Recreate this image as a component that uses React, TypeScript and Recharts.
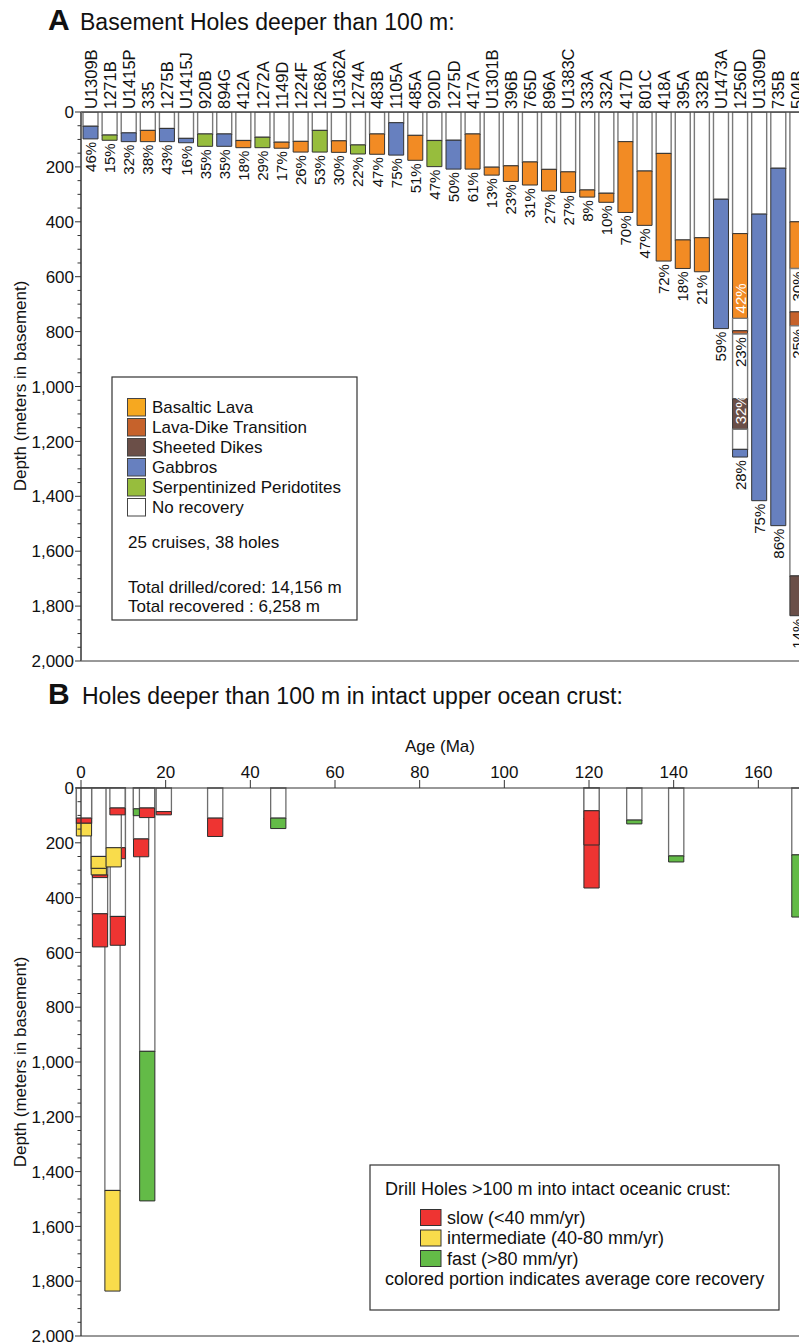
import React from 'react';
import {
  BarChart,
  Bar,
  XAxis,
  YAxis,
  Cell,
  LabelList,
  ComposedChart,
  ReferenceArea,
  Scatter,
} from 'recharts';

const FONT = '"Liberation Sans", Arial, Helvetica, sans-serif';

// ================= Panel A data =================
const holeNames = [
  'U1309B', '1271B', 'U1415P', '335', '1275B', 'U1415J', '920B', '894G', '412A', '1272A',
  '1149D', '1224F', '1268A', 'U1362A', '1274A', '483B', '1105A', '485A', '920D', '1275D',
  '417A', 'U1301B', '396B', '765D', '896A', 'U1383C', '333A', '332A', '417D', '801C',
  '418A', '395A', '332B', 'U1473A', '1256D', 'U1309D', '735B', '504B',
];

// bottom of each cored interval (m in basement)
const intervalBottom: number[][] = [
  [98], [103], [108], [108], [108], [112], [125], [125], [130], [130],
  [132], [146], [146], [147], [153], [154], [157], [176], [199], [208],
  [208], [230], [253], [266], [288], [293], [310], [329], [366], [413],
  [543], [570], [582], [789], [752, 809, 1156, 1257], [1416], [1507], [570, 779, 1835],
];

// top of the coloured (recovered) part of each interval (m in basement)
const recoveredTop: number[][] = [
  [52], [84], [76], [67], [60], [96], [80], [80], [104], [92],
  [110], [107], [67], [105], [120], [80], [39], [85], [104], [103],
  [80], [201], [196], [182], [209], [218], [284], [296], [108], [215],
  [151], [466], [458], [318], [443, 797, 1045, 1229], [372], [205], [400, 728, 1690],
];

// L = basaltic lava, T = lava-dike transition, D = sheeted dikes, G = gabbros, S = serpentinized peridotites
const intervalRock: string[][] = [
  ['G'], ['S'], ['G'], ['L'], ['G'], ['G'], ['S'], ['G'], ['L'], ['S'],
  ['L'], ['L'], ['S'], ['L'], ['S'], ['L'], ['G'], ['L'], ['S'], ['G'],
  ['L'], ['L'], ['L'], ['L'], ['L'], ['L'], ['L'], ['L'], ['L'], ['L'],
  ['L'], ['L'], ['L'], ['G'], ['L', 'T', 'D', 'G'], ['G'], ['G'], ['L', 'T', 'D'],
];

const recoveryPct: number[][] = [
  [46], [15], [32], [38], [43], [16], [35], [35], [18], [29],
  [17], [26], [53], [30], [22], [47], [75], [51], [47], [50],
  [61], [13], [23], [31], [27], [27], [8], [10], [70], [47],
  [72], [18], [21], [59], [42, 23, 32, 28], [75], [86], [30, 25, 14],
];

// intervals whose recovery label is written inside the coloured segment
const insideLabels: Record<string, number[]> = { '1256D': [0, 2] };

const rockFill: Record<string, string> = {
  N: '#FFFFFF',
  L: '#F28B24',
  T: '#C6622B',
  D: '#6B4F48',
  G: '#6780BF',
  S: '#97BD3D',
};

const legendA = [
  { label: 'Basaltic Lava', color: '#F6A820' },
  { label: 'Lava-Dike Transition', color: '#C6622B' },
  { label: 'Sheeted Dikes', color: '#6B4F48' },
  { label: 'Gabbros', color: '#6780BF' },
  { label: 'Serpentinized Peridotites', color: '#97BD3D' },
  { label: 'No recovery', color: '#FFFFFF' },
];

// ================= Panel B data (listed in drawing order) =================
const holeAgeB = [7.44, 15.65, 8.7, 4.49, 4.5, 4.2, 4.2, 0.7, 0.71, 8.68, 7.72, 8.62, 14.2, 14.15, 15.6, 19.56, 31.7, 46.6, 120.6, 120.6, 130.7, 140.6, 169.7];
const recoveredTopB = [1469, 961, 469, 459, 317, 293, 250, 128, 110, 218, 218, 73, 186, 76, 73, 86, 110, 110, 110, 83, 117, 248, 244];
const bottomB = [1836, 1507, 574, 580, 327, 317, 293, 175, 128, 258, 288, 98, 251, 101, 108, 98, 177, 148, 365, 208, 131, 270, 471];
const spreadB = ['I', 'F', 'S', 'S', 'S', 'I', 'I', 'I', 'S', 'S', 'I', 'S', 'S', 'F', 'S', 'S', 'S', 'F', 'S', 'S', 'F', 'F', 'F'];

const spreadFill: Record<string, string> = { S: '#EE3432', I: '#F9DC4B', F: '#63BB47' };
const legendB = [
  { label: 'slow (<40 mm/yr)', color: '#EE3432' },
  { label: 'intermediate (40-80 mm/yr)', color: '#F9DC4B' },
  { label: 'fast (>80 mm/yr)', color: '#63BB47' },
];

const depthTicks = Array.from({ length: 41 }, (_, i) => i * 50);
const ageTicks = [0, 20, 40, 60, 80, 100, 120, 140, 160, 180];

// ================= layout constants =================
const AXIS_X = 81;
const PLOT_TOP_A = 112;
const SEGS = 8;
const BAR_HALF_MA = 1.8;

const fmt = (v: number) => {
  const s = String(v);
  return s.length > 3 ? s.slice(0, s.length - 3) + ',' + s.slice(s.length - 3) : s;
};

// ---------- build stacked rows for panel A ----------
const rowsA = holeNames.map((name, i) => {
  const row: Record<string, any> = { name };
  for (let k = 0; k < SEGS; k++) row['s' + k] = 0;
  let prev = 0;
  const n = intervalBottom[i].length;
  intervalBottom[i].forEach((bottom, j) => {
    const top = recoveredTop[i][j];
    const kw = 2 * j;
    const kc = 2 * j + 1;
    row['s' + kw] = top - prev;
    row['r' + kw] = 'N';
    row['s' + kc] = bottom - top;
    row['r' + kc] = intervalRock[i][j];
    const text = recoveryPct[i][j] + '%';
    const inside = (insideLabels[name] || []).includes(j);
    if (inside) row['L' + kc] = text + '|in';
    else if (j < n - 1) row['L' + (kc + 1)] = text + '|top';
    else row['L' + kc] = text + '|below';
    prev = bottom;
  });
  return row;
});

const rowsB = holeAgeB.map((age, i) => ({ age, bottom: bottomB[i] }));

const DepthTick = (props: any) => {
  const { y, payload } = props;
  const v = payload.value as number;
  const major = v % 200 === 0;
  return (
    <g>
      <line x1={AXIS_X - (major ? 6 : 3.5)} x2={AXIS_X} y1={y} y2={y} stroke="#333" strokeWidth={1} />
      {major && (
        <text x={AXIS_X - 7} y={y} dy="0.36em" textAnchor="end" fontSize={17} fontFamily={FONT} fill="#111">
          {fmt(v)}
        </text>
      )}
    </g>
  );
};

const NameTick = (props: any) => {
  const { x, payload } = props;
  const ty = PLOT_TOP_A - 3;
  return (
    <text
      x={x}
      y={ty}
      transform={`rotate(-90 ${x} ${ty})`}
      textAnchor="start"
      dominantBaseline="central"
      fontSize={16.5}
      fontFamily={FONT}
      fill="#111"
    >
      {payload.value}
    </text>
  );
};

const renderPct = (props: any) => {
  const v = props.value;
  if (typeof v !== 'string') return null;
  const [text, mode] = v.split('|');
  const vb = props.viewBox && props.viewBox.width != null ? props.viewBox : props;
  const x = Number(vb.x);
  const y = Number(vb.y);
  const w = Number(vb.width);
  const h = Number(vb.height);
  if (!isFinite(x) || !isFinite(y)) return null;
  const cx = x + w / 2;
  const top = Math.min(y, y + h);
  const bottom = Math.max(y, y + h);
  let ty = bottom + 3;
  let anchor = 'end';
  let color = '#111';
  if (mode === 'in') {
    ty = bottom - 5;
    anchor = 'start';
    color = '#fff';
  } else if (mode === 'top') {
    ty = top + 3;
  }
  return (
    <text
      x={cx}
      y={ty}
      transform={`rotate(-90 ${cx} ${ty})`}
      textAnchor={anchor}
      dominantBaseline="central"
      fontSize={15}
      fontFamily={FONT}
      fill={color}
    >
      {text}
    </text>
  );
};

const PanelA = () => (
  <BarChart
    width={830}
    height={670}
    data={rowsA}
    margin={{ top: 40, right: 23, bottom: 8, left: 0 }}
    barCategoryGap={2}
  >
    <XAxis
      dataKey="name"
      orientation="top"
      height={72}
      interval={0}
      tickLine={false}
      axisLine={{ stroke: '#444', strokeWidth: 1.5 }}
      tick={<NameTick />}
    />
    <XAxis
      xAxisId="bottom"
      dataKey="name"
      orientation="bottom"
      height={1}
      tick={false}
      tickLine={false}
      axisLine={{ stroke: '#333', strokeWidth: 1 }}
    />
    <YAxis
      type="number"
      domain={[0, 2000]}
      reversed
      ticks={depthTicks}
      interval={0}
      width={AXIS_X}
      tickLine={false}
      axisLine={{ stroke: '#666', strokeWidth: 2 }}
      tick={<DepthTick />}
      allowDataOverflow
    />
    {Array.from({ length: SEGS }, (_, k) => (
      <Bar key={'s' + k} dataKey={'s' + k} stackId="a" isAnimationActive={false}>
        {rowsA.map((r, i) => {
          const rock = r['r' + k];
          const white = rock === 'N';
          return (
            <Cell
              key={i}
              fill={rock ? rockFill[rock] : 'none'}
              stroke={rock ? (white ? '#7a7a7a' : '#333') : 'none'}
              strokeWidth={white ? 1.4 : 1}
            />
          );
        })}
        <LabelList dataKey={'L' + k} content={renderPct} />
      </Bar>
    ))}
  </BarChart>
);

const PanelB = () => {
  const areas: React.ReactElement[] = [];
  holeAgeB.forEach((age, i) => {
    areas.push(
      <ReferenceArea
        key={'w' + i}
        x1={age - BAR_HALF_MA}
        x2={age + BAR_HALF_MA}
        y1={0}
        y2={recoveredTopB[i]}
        fill="#ffffff"
        fillOpacity={1}
        stroke="#6e6e6e"
        strokeWidth={1.3}
        ifOverflow="visible"
      />
    );
    areas.push(
      <ReferenceArea
        key={'c' + i}
        x1={age - BAR_HALF_MA}
        x2={age + BAR_HALF_MA}
        y1={recoveredTopB[i]}
        y2={bottomB[i]}
        fill={spreadFill[spreadB[i]]}
        fillOpacity={1}
        stroke="#2d2d2d"
        strokeWidth={1}
        ifOverflow="visible"
      />
    );
  });
  return (
    <ComposedChart
      width={850}
      height={663}
      data={rowsB}
      margin={{ top: 78, right: 7, bottom: 6, left: 0 }}
    >
      {areas}
      <Scatter dataKey="bottom" shape={() => <g />} isAnimationActive={false} />
      <XAxis
        type="number"
        dataKey="age"
        orientation="top"
        domain={[0, 180]}
        ticks={ageTicks}
        interval={0}
        height={30}
        tickSize={8}
        tickMargin={2}
        allowDataOverflow
        tick={{ fontSize: 17, fill: '#111', fontFamily: FONT }}
        axisLine={{ stroke: '#333', strokeWidth: 1.2 }}
        tickLine={{ stroke: '#333' }}
      />
      <XAxis
        xAxisId="b"
        type="number"
        dataKey="age"
        orientation="bottom"
        domain={[0, 180]}
        allowDataOverflow
        height={1}
        tick={false}
        tickLine={false}
        axisLine={{ stroke: '#333', strokeWidth: 1 }}
      />
      <YAxis
        type="number"
        domain={[0, 2000]}
        reversed
        ticks={depthTicks}
        interval={0}
        width={AXIS_X}
        tickLine={false}
        axisLine={{ stroke: '#333', strokeWidth: 1.3 }}
        tick={<DepthTick />}
        allowDataOverflow
      />
    </ComposedChart>
  );
};

const Overlay = () => (
  <svg
    width={799}
    height={1343}
    style={{ position: 'absolute', left: 0, top: 0, pointerEvents: 'none' }}
    fontFamily={FONT}
  >
    {/* Panel A titles */}
    <text x={48} y={30} fontSize={30} fontWeight="bold" fill="#111">A</text>
    <text x={80} y={30} fontSize={23} fill="#111">Basement Holes deeper than 100 m:</text>
    <text
      x={20}
      y={386}
      transform="rotate(-90 20 386)"
      textAnchor="middle"
      dominantBaseline="central"
      fontSize={17}
      fill="#111"
    >
      Depth (meters in basement)
    </text>

    {/* Panel A legend */}
    <rect x={112} y={377} width={245} height={243} fill="#fff" stroke="#333" strokeWidth={1.2} />
    {legendA.map((d, i) => (
      <g key={d.label}>
        <rect x={127.5} y={398.5 + i * 20} width={18} height={17.5} fill={d.color} stroke="#444" strokeWidth={1} />
        <text x={152} y={413 + i * 20} fontSize={17} fill="#111">{d.label}</text>
      </g>
    ))}
    <text x={128} y={548} fontSize={17} fill="#111">25 cruises, 38 holes</text>
    <text x={128} y={593} fontSize={17} fill="#111">Total drilled/cored: 14,156 m</text>
    <text x={128} y={612} fontSize={17} fill="#111">Total recovered : 6,258 m</text>

    {/* Panel B titles */}
    <text x={48} y={704} fontSize={30} fontWeight="bold" fill="#111">B</text>
    <text x={82} y={704} fontSize={23} fill="#111">Holes deeper than 100 m in intact upper ocean crust:</text>
    <text x={440} y={752} textAnchor="middle" fontSize={17} fill="#111">Age (Ma)</text>
    <text
      x={20}
      y={1062}
      transform="rotate(-90 20 1062)"
      textAnchor="middle"
      dominantBaseline="central"
      fontSize={17}
      fill="#111"
    >
      Depth (meters in basement)
    </text>

    {/* Panel B legend */}
    <rect x={370} y={1165} width={409} height={145} fill="#fff" stroke="#333" strokeWidth={1.2} />
    <text x={385} y={1195} fontSize={18} fill="#111">Drill Holes &gt;100 m into intact oceanic crust:</text>
    {legendB.map((d, i) => (
      <g key={d.label}>
        <rect x={420.5} y={1209.5 + i * 20.5} width={20.5} height={16} fill={d.color} stroke="#333" strokeWidth={1} />
        <text x={447} y={1223.5 + i * 20.5} fontSize={18} fill="#111">{d.label}</text>
      </g>
    ))}
    <text x={385} y={1285} fontSize={18} fill="#111">colored portion indicates average core recovery</text>
  </svg>
);

export default function App() {
  return (
    <div
      style={{
        position: 'absolute',
        left: 0,
        top: 0,
        width: 799,
        height: 1343,
        overflow: 'hidden',
        background: '#fff',
        fontFamily: FONT,
      }}
    >
      <div style={{ position: 'absolute', left: 0, top: 0 }}>
        <PanelA />
      </div>
      <div style={{ position: 'absolute', left: 0, top: 680 }}>
        <PanelB />
      </div>
      <Overlay />
    </div>
  );
}
